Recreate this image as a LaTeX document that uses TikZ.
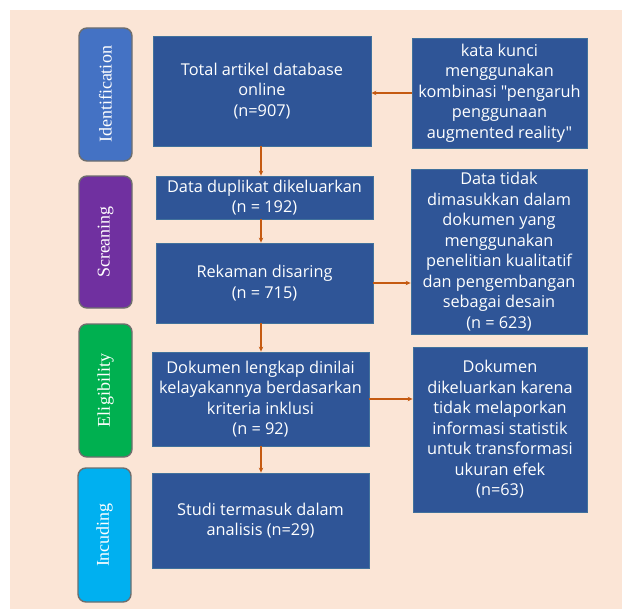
\documentclass[tikz,border=0pt]{standalone}
\usepackage{fontspec}
\newfontfamily\boxfont{Open Sans}[Ligatures=NoCommon]
\newfontfamily\lblfont{Liberation Serif}
\usetikzlibrary{arrows.meta}
\definecolor{peach}{HTML}{FBE5D6}
\definecolor{boxblue}{HTML}{2F5597}
\definecolor{boxedge}{HTML}{41719C}
\definecolor{arr}{HTML}{C55A11}
\definecolor{idblue}{HTML}{4472C4}
\definecolor{scpurple}{HTML}{7030A0}
\definecolor{elgreen}{HTML}{00B050}
\definecolor{incyan}{HTML}{00B0F0}
\definecolor{lbledge}{HTML}{6E6E6E}
\begin{document}
\begin{tikzpicture}[x=1pt,y=-1pt,
  bluebox/.style={draw=boxedge, line width=0.8pt, fill=boxblue, text=white, align=center,
    inner sep=1pt, font=\boxfont\fontsize{16.3}{20.5}\selectfont},
  stagelbl/.style={draw=lbledge, line width=1.4pt, rounded corners=8pt, rotate=90,
    minimum height=53pt, text=white, inner sep=0pt, font=\lblfont\fontsize{18}{20}\selectfont},
  flow/.style={draw=arr, line width=1.2pt, -{Stealth[length=5pt,width=4.5pt]}}]
\useasboundingbox (0,0) rectangle (622,610);
\fill[white] (0,0) rectangle (622,610);
\fill[peach] (10,10) rectangle (622,609);

% stage labels
\node[stagelbl, fill=idblue, minimum width=133pt] (lid) at (105.5,94.5) {Identification};
\node[stagelbl, fill=scpurple, minimum width=132pt] (lsc) at (105.5,242) {Screaning};
\node[stagelbl, fill=elgreen, minimum width=133pt] (lel) at (105.5,390.5) {Eligibility};
\node[stagelbl, fill=incyan, minimum width=134pt] (lin) at (104.5,535) {Incuding};

% main column
\node[bluebox, minimum width=218pt, minimum height=110pt] (tot) at (262,91)
  {Total artikel database\\online\\(n=907)};
\node[bluebox, minimum width=217pt, minimum height=43pt] (dup) at (264.5,197.5)
  {Data duplikat dikeluarkan\\(n = 192)};
\node[bluebox, minimum width=217pt, minimum height=80pt] (rek) at (264.5,283)
  {Rekaman disaring\\(n = 715)};
\node[bluebox, minimum width=217pt, minimum height=94pt] (dok) at (260.5,399)
  {Dokumen lengkap dinilai\\kelayakannya berdasarkan\\kriteria inklusi\\(n = 92)};
\node[bluebox, minimum width=217pt, minimum height=95pt] (stu) at (260.5,520.5)
  {Studi termasuk dalam\\analisis (n=29)};

% right column
\node[bluebox, minimum width=175pt, minimum height=110pt] (kata) at (499.5,93)
  {kata kunci\\menggunakan\\kombinasi "pengaruh\\penggunaan\\augmented reality"};
\node[bluebox, minimum width=176pt, minimum height=165pt] (tidak) at (499,251.5)
  {Data tidak\\dimasukkan dalam\\dokumen yang\\menggunakan\\penelitian kualitatif\\dan pengembangan\\sebagai desain\\(n = 623)};
\node[bluebox, minimum width=174pt, minimum height=165pt] (dik) at (500,429.5)
  {Dokumen\\dikeluarkan karena\\tidak melaporkan\\informasi statistik\\untuk transformasi\\ukuran efek\\(n=63)};

% connectors
\coordinate (vx) at (261,0);
\draw[flow] (kata.west) -- (kata.west -| tot.east);
\draw[flow] (tot.south -| vx) -- (vx |- dup.north);
\draw[flow] (dup.south -| vx) -- (vx |- rek.north);
\draw[flow] (rek.south -| vx) -- (vx |- dok.north);
\draw[flow] (dok.south -| vx) -- (vx |- stu.north);
\draw[flow] (rek.east) -- (rek.east -| tidak.west);
\draw[flow] (dok.east) -- (dok.east -| dik.west);
\end{tikzpicture}
\end{document}
